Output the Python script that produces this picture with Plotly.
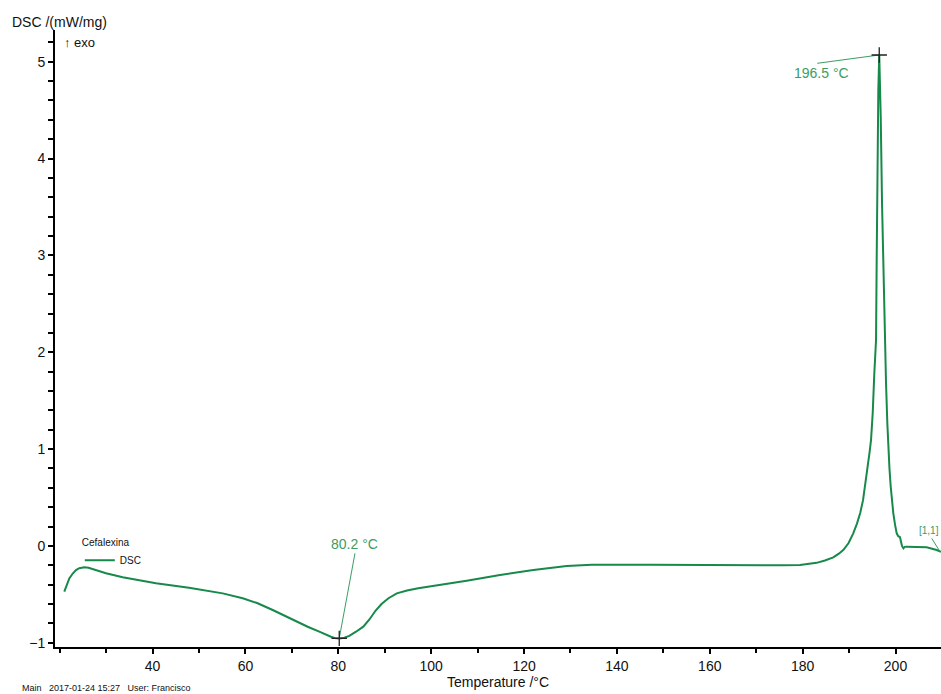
import plotly.graph_objects as go

# DSC trace of Cefalexina: temperature (°C) and heat flow (mW/mg), exo up
temperature = [20.98, 21.5, 22.06, 22.8, 23.50, 24.2, 25.29, 26.2, 27.10, 28.5, 29.96,
               33.56, 40.73, 47.84, 55.10, 59.41, 62.5, 65.87, 68.3, 70.89, 73.4,
               75.90, 77.3, 78.4, 79.2, 80.2, 81.3, 82.37, 83.81, 85.38, 86.7, 88.0,
               89.3, 90.8, 92.6, 94.8, 97.2, 100.46, 107.65, 114.82, 122.0, 129.19,
               131.5, 134.57, 147.13, 161.49, 175.84, 179.43, 181.22, 183.0, 184.8,
               186.6, 187.8, 188.8, 189.9, 190.9, 191.7, 192.4, 193.0, 193.44, 193.8,
               194.15, 194.45, 194.73, 195.09, 195.44, 195.81, 195.96, 196.08, 196.30,
               196.5, 196.82, 197.10, 197.38, 197.68, 197.96, 198.24, 198.46, 198.7,
               198.97, 199.25, 199.53, 199.9, 200.26, 200.6, 200.97, 201.2, 201.4,
               201.7, 202.0, 202.4, 204.57, 206.72, 208.87, 209.8]
dsc = [-0.473, -0.41, -0.335, -0.285, -0.249, -0.23, -0.221, -0.225, -0.238, -0.26, -0.283,
       -0.324, -0.386, -0.432, -0.490, -0.541, -0.59, -0.662, -0.72, -0.783, -0.835,
       -0.886, -0.92, -0.938, -0.95, -0.955, -0.948, -0.930, -0.886, -0.834, -0.76, -0.67,
       -0.60, -0.54, -0.49, -0.46, -0.438, -0.414, -0.359, -0.300, -0.249, -0.208,
       -0.200, -0.194, -0.194, -0.200, -0.200, -0.197, -0.187, -0.175, -0.15,
       -0.118, -0.08, -0.04, 0.03, 0.13, 0.23, 0.34, 0.47, 0.611, 0.74,
       0.887, 0.98, 1.094, 1.369, 1.782, 2.126, 3.022, 3.848, 4.708,
       5.07, 4.433, 3.538, 2.918, 2.126, 1.679, 1.266, 0.98, 0.80,
       0.611, 0.46, 0.337, 0.22, 0.130, 0.10, 0.09, 0.04, 0.0,
       -0.025, -0.01, -0.008, -0.008, -0.015, -0.042, -0.060]

# Evaluated points: minimum (endotherm) and maximum (exotherm)
peak_temps = [80.2, 196.5]
peak_vals = [-0.955, 5.07]
peak_labels = ["80.2 °C", "196.5 °C"]
# label anchor points (end of the leader lines)
label_temps = [83.59, 183.16]
label_vals = [-0.076, 4.984]

# curve segment marker "[1,1]"
seg_label = "[1,1]"
seg_from = (207.8, 0.078)
seg_to = (209.6, -0.06)

x_ticks = [40, 60, 80, 100, 120, 140, 160, 180, 200]
y_ticks = [-1, 0, 1, 2, 3, 4, 5]

FONT = "Liberation Sans, Arial, sans-serif"
CURVE = "#17894a"
LABEL = "#3a9d63"
INK = "#111111"

fig = go.Figure()

fig.add_trace(go.Scatter(
    x=temperature, y=dsc, mode="lines", name="DSC",
    line=dict(color=CURVE, width=2),
    showlegend=True,
))

# leader lines from the evaluated points to their labels
for t, v, lt, lv in zip(peak_temps, peak_vals, label_temps, label_vals):
    fig.add_trace(go.Scatter(
        x=[t, lt], y=[v, lv], mode="lines",
        line=dict(color=LABEL, width=1), showlegend=False, hoverinfo="skip",
    ))

fig.add_trace(go.Scatter(
    x=[seg_from[0], seg_to[0]], y=[seg_from[1], seg_to[1]], mode="lines",
    line=dict(color=LABEL, width=1), showlegend=False, hoverinfo="skip",
))

# cross markers at the evaluated points
fig.add_trace(go.Scatter(
    x=peak_temps, y=peak_vals, mode="markers",
    marker=dict(symbol="cross-thin", size=11, line=dict(color="#222222", width=1.3)),
    showlegend=False, hoverinfo="skip",
))

# peak labels
fig.add_annotation(x=label_temps[0], y=label_vals[0], text=peak_labels[0],
                   showarrow=False, xanchor="center", yanchor="bottom", yshift=-1,
                   font=dict(family=FONT, size=14, color=LABEL))
fig.add_annotation(x=label_temps[1], y=label_vals[1], text=peak_labels[1],
                   showarrow=False, xanchor="left", yanchor="top", xshift=-25, yshift=0,
                   font=dict(family=FONT, size=14, color=LABEL))
fig.add_annotation(xref="paper", x=1.0, y=seg_from[1], text=seg_label,
                   showarrow=False, xanchor="right", yanchor="bottom", yshift=0,
                   font=dict(family=FONT, size=10, color=LABEL))

# axis title, exo direction and footer
fig.add_annotation(xref="paper", yref="paper", x=-0.0508, y=1.0134,
                   text="DSC /(mW/mg)", showarrow=False, xanchor="left", yanchor="middle",
                   font=dict(family=FONT, size=14, color=INK))
fig.add_annotation(xref="paper", yref="paper", x=0.008, y=0.979,
                   text="↑ exo", showarrow=False, xanchor="left", yanchor="middle",
                   font=dict(family=FONT, size=13, color=INK))
fig.add_annotation(xref="paper", yref="paper", x=-0.0395, y=-0.0665,
                   text="Main&nbsp;&nbsp;&nbsp;2017-01-24 15:27&nbsp;&nbsp;&nbsp;User: Francisco",
                   showarrow=False, xanchor="left", yanchor="middle",
                   font=dict(family=FONT, size=9, color=INK))

axis_common = dict(
    showgrid=False, zeroline=False, showline=True, linecolor="#000000", linewidth=2,
    ticks="outside", ticklen=5, tickwidth=1.5, tickcolor="#000000",
    tickfont=dict(family=FONT, size=14, color=INK),
)

fig.update_xaxes(
    range=[18.98, 209.8], tickvals=x_ticks,
    minor=dict(dtick=10, tick0=0, ticks="outside", ticklen=4, tickcolor="#000000", tickwidth=1.5),
    title=dict(text="Temperature /°C", font=dict(family=FONT, size=14, color=INK), standoff=0),
    **axis_common,
)
fig.update_yaxes(
    range=[-1.044, 5.328], tickvals=y_ticks,
    minor=dict(dtick=0.2, tick0=0, ticks="outside", ticklen=5, tickcolor="#000000", tickwidth=1.5),
    **axis_common,
)

fig.update_layout(
    width=941, height=694,
    margin=dict(l=55, r=0, t=30, b=47),
    plot_bgcolor="#ffffff", paper_bgcolor="#ffffff",
    legend=dict(
        x=0.028, y=0.185, xanchor="left", yanchor="top",
        bgcolor="rgba(0,0,0,0)",
        title=dict(text="Cefalexina", font=dict(family=FONT, size=10, color=INK)),
        font=dict(family=FONT, size=10, color=INK),
        itemwidth=30, tracegroupgap=0,
    ),
    font=dict(family=FONT),
)

fig.write_html("out.html")
